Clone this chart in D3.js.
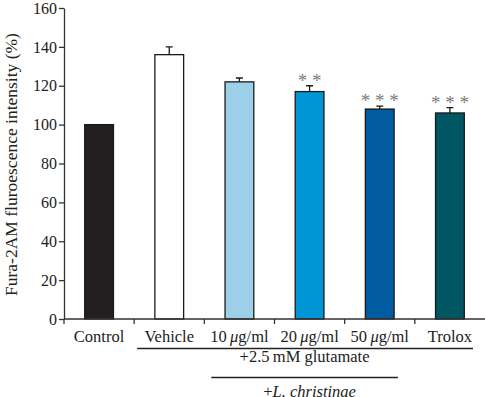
<!DOCTYPE html>
<html>
<head>
<meta charset="utf-8">
<script src="https://cdn.jsdelivr.net/npm/d3@7"></script>
<style>
  body { margin: 0; background: #fff; }
  svg { display: block; font-family: "Liberation Serif", "DejaVu Serif", serif; }
</style>
</head>
<body>
<div id="chart"></div>
<script>
const categories = ["Control", "Vehicle", "10", "20", "50", "Trolox"];
const values = [100, 136, 122, 117, 108, 106];
const errors = [0, 4, 2, 3, 1.5, 2.7];
const stars = ["", "", "", "* *", "* * *", "* * *"];
const colors = ["#231f20", "#ffffff", "#9dcfe8", "#0096d6", "#005c9e", "#005663"];
const yTicks = [0, 20, 40, 60, 80, 100, 120, 140, 160];

const width = 485;
const height = 397;
const margin = { top: 8, right: 0, bottom: 78, left: 64 };

const svg = d3.select("#chart").append("svg")
    .attr("width", width)
    .attr("height", height);

const x = d3.scaleBand()
    .domain(categories)
    .range([margin.left, width - margin.right])
    .padding(0);

const y = d3.scaleLinear()
    .domain([0, 160])
    .range([height - margin.bottom, margin.top]);

const barW = x.bandwidth() * 0.41;

// bars
svg.selectAll(".bar")
  .data(categories)
  .join("rect")
    .attr("class", "bar")
    .attr("x", d => x(d) + (x.bandwidth() - barW) / 2)
    .attr("y", (d, i) => y(values[i]))
    .attr("width", barW)
    .attr("height", (d, i) => y(0) - y(values[i]))
    .attr("fill", (d, i) => colors[i])
    .attr("stroke", "#1a1a1a")
    .attr("stroke-width", 1.3);

// error bars (upper only)
const cx = d => x(d) + x.bandwidth() / 2;
svg.selectAll(".err")
  .data(categories.filter((d, i) => errors[i] > 0))
  .join("path")
    .attr("class", "err")
    .attr("fill", "none")
    .attr("stroke", "#1a1a1a")
    .attr("stroke-width", 1.3)
    .attr("d", d => {
      const i = categories.indexOf(d);
      const top = y(values[i] + errors[i]);
      return `M${cx(d)},${y(values[i])}V${top}M${cx(d) - 3.5},${top}H${cx(d) + 3.5}`;
    });

// significance stars
svg.selectAll(".star")
  .data(categories)
  .join("text")
    .attr("class", "star")
    .attr("x", d => cx(d))
    .attr("y", (d, i) => y(values[i] + errors[i]) + 1)
    .attr("text-anchor", "middle")
    .attr("fill", "#7a7a7a")
    .attr("font-size", 19)
    .text((d, i) => stars[i]);

// y axis
const yAxis = svg.append("g")
    .attr("transform", `translate(${margin.left},0)`)
    .call(d3.axisLeft(y).tickValues(yTicks).tickSize(5).tickSizeOuter(0));
yAxis.select(".domain").attr("stroke", "#333").attr("stroke-width", 1.3);
yAxis.selectAll(".tick line").attr("stroke", "#333").attr("stroke-width", 1.3);
yAxis.selectAll(".tick text")
    .attr("font-family", "Liberation Serif, serif")
    .attr("font-size", 16)
    .attr("fill", "#222")
    .attr("x", -7);

// x axis with ticks at band boundaries
const xAxis = svg.append("g")
    .attr("transform", `translate(0,${y(0)})`);
xAxis.append("line")
    .attr("x1", margin.left).attr("x2", width - margin.right)
    .attr("stroke", "#333").attr("stroke-width", 1.3);
xAxis.selectAll(".xt")
  .data(categories)
  .join("line")
    .attr("class", "xt")
    .attr("x1", d => x(d)).attr("x2", d => x(d))
    .attr("y1", 0).attr("y2", 5)
    .attr("stroke", "#333").attr("stroke-width", 1.3);

const labels = xAxis.selectAll(".xl")
  .data(categories)
  .join("text")
    .attr("class", "xl")
    .attr("x", d => cx(d))
    .attr("y", 23)
    .attr("text-anchor", "middle")
    .attr("font-size", 16.5)
    .attr("fill", "#222");
labels.each(function (d) {
  const t = d3.select(this);
  if (isNaN(+d)) {
    t.text(d);
  } else {
    t.append("tspan").text(d + "\u2009");
    t.append("tspan").attr("font-style", "italic").text("\u03bc");
    t.append("tspan").text("g/ml");
  }
});

// group brackets
const base = y(0);
svg.append("line")
    .attr("x1", x("Vehicle") + 3).attr("x2", x("Trolox") + x.bandwidth() - 12)
    .attr("y1", base + 29.5).attr("y2", base + 29.5)
    .attr("stroke", "#222").attr("stroke-width", 1.3);
svg.append("text")
    .attr("x", (x("Vehicle") + x("Trolox") + x.bandwidth()) / 2 - 5)
    .attr("y", base + 43)
    .attr("text-anchor", "middle")
    .attr("font-size", 16.5)
    .attr("fill", "#222")
    .text("+2.5\u2009mM glutamate");
svg.append("line")
    .attr("x1", x("10") + 7).attr("x2", x("50") + x.bandwidth() - 17)
    .attr("y1", base + 58.5).attr("y2", base + 58.5)
    .attr("stroke", "#222").attr("stroke-width", 1.3);
const lc = svg.append("text")
    .attr("x", (x("10") + x("50") + x.bandwidth()) / 2)
    .attr("y", base + 78)
    .attr("text-anchor", "middle")
    .attr("font-size", 16.5)
    .attr("fill", "#222");
lc.append("tspan").text("+");
lc.append("tspan").attr("font-style", "italic").text("L. christinae");

// y axis title
svg.append("text")
    .attr("transform", `translate(17,${(margin.top + y(0)) / 2 + 1}) rotate(-90)`)
    .attr("text-anchor", "middle")
    .attr("font-size", 17.5)
    .attr("fill", "#222")
    .text("Fura-2AM fluroescence intensity (%)");
</script>
</body>
</html>
